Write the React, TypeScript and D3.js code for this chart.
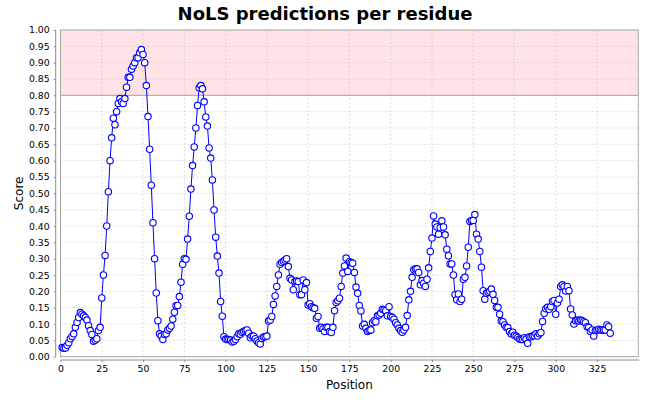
import { useEffect, useRef } from "react";
import * as d3 from "d3";

// NoLS score per residue, positions start at 1
const scores: number[] = [
  0.028, 0.026, 0.027, 0.035, 0.043, 0.055, 0.062, 0.07, 0.09, 0.105,
  0.12, 0.135, 0.13, 0.125, 0.12, 0.112, 0.095, 0.08, 0.068, 0.047,
  0.05, 0.055, 0.08, 0.09, 0.18, 0.25, 0.31, 0.4, 0.505, 0.6,
  0.67, 0.73, 0.71, 0.75, 0.775, 0.79, 0.78, 0.775, 0.79, 0.825,
  0.855, 0.855, 0.88, 0.89, 0.9, 0.915, 0.915, 0.93, 0.94, 0.925,
  0.9, 0.83, 0.735, 0.635, 0.525, 0.41, 0.3, 0.195, 0.11, 0.07,
  0.063, 0.053, 0.068, 0.07, 0.082, 0.087, 0.094, 0.115, 0.136, 0.156,
  0.157, 0.184, 0.228, 0.283, 0.3, 0.298, 0.36, 0.43, 0.513, 0.585,
  0.642, 0.7, 0.769, 0.823, 0.83, 0.82, 0.78, 0.734, 0.706, 0.639,
  0.608, 0.541, 0.449, 0.366, 0.308, 0.256, 0.169, 0.124, 0.061, 0.054,
  0.053, 0.053, 0.051, 0.045, 0.047, 0.053, 0.061, 0.07, 0.069, 0.075,
  0.077, 0.08, 0.082, 0.072, 0.058, 0.063, 0.063, 0.055, 0.048, 0.043,
  0.039, 0.056, 0.06, 0.061, 0.063, 0.109, 0.112, 0.123, 0.16, 0.186,
  0.215, 0.25, 0.283, 0.288, 0.292, 0.296, 0.3, 0.276, 0.24, 0.235,
  0.205, 0.23, 0.232, 0.23, 0.19, 0.19, 0.235, 0.205, 0.227, 0.158,
  0.162, 0.153, 0.15, 0.148, 0.118, 0.123, 0.087, 0.09, 0.085, 0.077,
  0.09, 0.09, 0.077, 0.074, 0.09, 0.141, 0.166, 0.171, 0.179, 0.215,
  0.256, 0.278, 0.302, 0.261, 0.291, 0.288, 0.286, 0.258, 0.213, 0.194,
  0.157, 0.14, 0.094, 0.099, 0.087, 0.077, 0.08, 0.082, 0.104, 0.11,
  0.107, 0.125, 0.128, 0.133, 0.145, 0.143, 0.141, 0.125, 0.153, 0.123,
  0.12, 0.115, 0.104, 0.097, 0.087, 0.08, 0.075, 0.082, 0.09, 0.126,
  0.174, 0.2, 0.243, 0.266, 0.269, 0.269, 0.258, 0.22, 0.233, 0.225,
  0.215, 0.237, 0.272, 0.322, 0.363, 0.431, 0.406, 0.397, 0.375, 0.395,
  0.416, 0.397, 0.373, 0.329, 0.309, 0.284, 0.284, 0.25, 0.19, 0.174,
  0.192, 0.169, 0.176, 0.237, 0.243, 0.278, 0.335, 0.414, 0.417, 0.417,
  0.435, 0.375, 0.36, 0.322, 0.274, 0.202, 0.176, 0.194, 0.197, 0.2,
  0.207, 0.191, 0.172, 0.151, 0.151, 0.13, 0.109, 0.107, 0.097, 0.09,
  0.089, 0.077, 0.07, 0.075, 0.066, 0.063, 0.059, 0.054, 0.053, 0.053,
  0.058, 0.054, 0.041, 0.061, 0.061, 0.064, 0.064, 0.07, 0.063, 0.07,
  0.074, 0.108, 0.133, 0.147, 0.151, 0.145, 0.153, 0.169, 0.172, 0.13,
  0.164, 0.176, 0.215, 0.22, 0.215, 0.201, 0.215, 0.202, 0.146, 0.128,
  0.1, 0.11, 0.112, 0.109, 0.112, 0.11, 0.107, 0.104, 0.092, 0.09,
  0.077, 0.082, 0.063, 0.08, 0.082, 0.084, 0.082, 0.082, 0.082, 0.082,
  0.097, 0.092, 0.072,
];

const xTicks: number[] = [0, 25, 50, 75, 100, 125, 150, 175, 200, 225, 250, 275, 300, 325];
const yTicks: number[] = d3.range(0, 21).map((i) => i * 0.05);
const thresholdBand: [number, number] = [0.8, 1.0];

const title = "NoLS predictions per residue";
const xLabel = "Position";
const yLabel = "Score";

export default function App() {
  const svgRef = useRef<SVGSVGElement>(null);

  useEffect(() => {
    if (!svgRef.current) return;

    const width = 650;
    const height = 400;
    const left = 60.5;
    const right = 638.3;
    const top = 30;
    const bottom = 356.7;

    const x = d3.scaleLinear().domain([0, 350]).range([left, right]);
    const y = d3.scaleLinear().domain([0, 1]).range([bottom, top]);

    const points = scores.map((v, i) => ({ pos: i + 1, value: v }));

    const svg = d3.select(svgRef.current);
    svg.selectAll("*").remove();

    svg.append("rect").attr("width", width).attr("height", height).attr("fill", "#fff");

    // threshold band
    svg
      .append("rect")
      .attr("x", left)
      .attr("y", y(thresholdBand[1]))
      .attr("width", right - left)
      .attr("height", y(thresholdBand[0]) - y(thresholdBand[1]))
      .attr("fill", "#ffe2e5");

    // grid
    const grid = svg.append("g").attr("stroke", "#cfcfcf").attr("stroke-width", 0.7).attr("stroke-dasharray", "2,2");
    grid
      .selectAll(".gx")
      .data(xTicks)
      .enter()
      .append("line")
      .attr("x1", (d) => x(d))
      .attr("x2", (d) => x(d))
      .attr("y1", top)
      .attr("y2", bottom);
    grid
      .selectAll(".gy")
      .data(yTicks)
      .enter()
      .append("line")
      .attr("x1", left)
      .attr("x2", right)
      .attr("y1", (d) => y(d))
      .attr("y2", (d) => y(d));

    svg
      .append("line")
      .attr("x1", left)
      .attr("x2", right)
      .attr("y1", y(thresholdBand[0]))
      .attr("y2", y(thresholdBand[0]))
      .attr("stroke", "#a8a8a8");

    svg
      .append("rect")
      .attr("x", left)
      .attr("y", top)
      .attr("width", right - left)
      .attr("height", bottom - top)
      .attr("fill", "none")
      .attr("stroke", "#a8a8a8");

    // axes
    const yAxis = d3
      .axisLeft(y)
      .tickValues(yTicks)
      .tickSize(2)
      .tickPadding(4)
      .tickFormat((d) => d3.format(".2f")(d as number));
    const gy = svg.append("g").attr("transform", `translate(${left - 4.8},0)`).call(yAxis);

    const xAxis = d3.axisBottom(x).tickValues(xTicks).tickSize(2).tickPadding(3).tickFormat(d3.format("d"));
    const gx = svg.append("g").attr("transform", `translate(0,${bottom + 3.3})`).call(xAxis);

    [gx, gy].forEach((g) => {
      g.select(".domain").attr("stroke", "#8c8c8c");
      g.selectAll(".tick line").attr("stroke", "#8c8c8c");
      g.selectAll(".tick text")
        .attr("fill", "#000")
        .style("font-family", "'DejaVu Sans', sans-serif")
        .style("font-size", "9.3px");
    });
    gx.select(".domain").attr("d", `M${left},0H${right + 1}`);
    gy.select(".domain").attr("d", `M0,${top}V${bottom}`);

    // series
    const line = d3
      .line<{ pos: number; value: number }>()
      .x((d) => x(d.pos))
      .y((d) => y(d.value));

    svg
      .append("path")
      .datum(points)
      .attr("d", line)
      .attr("fill", "none")
      .attr("stroke", "#0000ff")
      .attr("stroke-width", 1);

    svg
      .selectAll(".pt")
      .data(points)
      .enter()
      .append("circle")
      .attr("class", "pt")
      .attr("cx", (d) => x(d.pos))
      .attr("cy", (d) => y(d.value))
      .attr("r", 3.2)
      .attr("fill", "#fff")
      .attr("stroke", "#0000ff")
      .attr("stroke-width", 1.1);

    // labels
    svg
      .append("text")
      .attr("x", 325)
      .attr("y", 19.5)
      .attr("text-anchor", "middle")
      .style("font-family", "'DejaVu Sans', sans-serif")
      .style("font-size", "18px")
      .style("font-weight", "bold")
      .text(title);

    svg
      .append("text")
      .attr("x", (left + right) / 2)
      .attr("y", 389.3)
      .attr("text-anchor", "middle")
      .style("font-family", "'DejaVu Sans', sans-serif")
      .style("font-size", "12px")
      .text(xLabel);

    svg
      .append("text")
      .attr("transform", `translate(22.5,${(top + bottom) / 2}) rotate(-90)`)
      .attr("text-anchor", "middle")
      .style("font-family", "'DejaVu Sans', sans-serif")
      .style("font-size", "12px")
      .text(yLabel);
  }, []);

  return (
    <svg
      ref={svgRef}
      width={650}
      height={400}
      style={{ position: "absolute", left: 0, top: 0 }}
    />
  );
}
